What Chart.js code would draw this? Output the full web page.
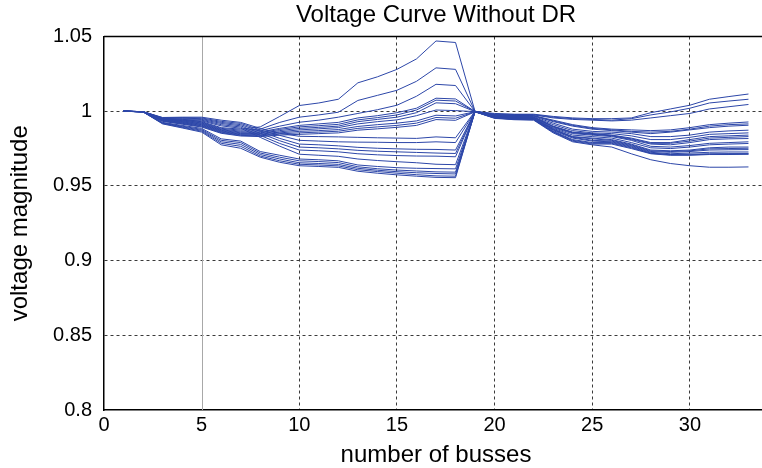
<!DOCTYPE html>
<html>
<head>
<meta charset="utf-8">
<script src="https://cdn.jsdelivr.net/npm/chart.js@4.4.1/dist/chart.umd.min.js"></script>
<style>
  html, body { margin: 0; padding: 0; background: #fff; overflow: hidden; }
  #wrap { width: 780px; height: 468px; }
</style>
</head>
<body>
<div id="wrap"><canvas id="voltageChart" width="780" height="468"></canvas></div>
<script>
const busNumbers = [1, 2, 3, 4, 5, 6, 7, 8, 9, 10, 11, 12, 13, 14, 15, 16, 17, 18,
    19, 20, 21, 22, 23, 24, 25, 26, 27, 28, 29, 30, 31, 32, 33];

const xTicks = [0, 5, 10, 15, 20, 25, 30];
const xTickLabels = ['0', '5', '10', '15', '20', '25', '30'];
const yTicks = [0.8, 0.85, 0.9, 0.95, 1, 1.05];
const yTickLabels = ['0.8', '0.85', '0.9', '0.95', '1', '1.05'];

// each curve: buses 1-18 (main feeder) then buses 19-33
const curve01 = [1.0, 0.9997, 0.9950, 0.9940, 0.9930, 0.9890, 0.9880, 0.9895, 0.9965, 1.0038, 1.0055, 1.0080, 1.0190, 1.0230, 1.0280, 1.0350, 1.0470, 1.0460,
    0.9998, 0.9985, 0.9980, 0.9980, 0.9965, 0.9955, 0.9950, 0.9950, 0.9955, 0.9990, 1.0015, 1.0040, 1.0080, 1.0098, 1.0115];
const curve02 = [1.0, 0.9997, 0.9948, 0.9937, 0.9926, 0.9885, 0.9873, 0.9880, 0.9925, 0.9960, 0.9975, 0.9993, 1.0072, 1.0106, 1.0140, 1.0200, 1.0290, 1.0280,
    0.9998, 0.9980, 0.9978, 0.9977, 0.9960, 0.9950, 0.9945, 0.9940, 0.9950, 0.9975, 0.9995, 1.0020, 1.0055, 1.0068, 1.0080];
const curve03 = [1.0, 0.9997, 0.9946, 0.9934, 0.9922, 0.9880, 0.9866, 0.9870, 0.9900, 0.9926, 0.9940, 0.9960, 0.9985, 1.0010, 1.0040, 1.0100, 1.0180, 1.0172,
    0.9998, 0.9980, 0.9975, 0.9975, 0.9955, 0.9945, 0.9940, 0.9935, 0.9940, 0.9955, 0.9970, 0.9985, 1.0015, 1.0030, 1.0045];
const curve04 = [1.0, 0.9997, 0.9944, 0.9931, 0.9918, 0.9876, 0.9860, 0.9862, 0.9885, 0.9905, 0.9915, 0.9925, 0.9955, 0.9970, 0.9990, 1.0020, 1.0087, 1.0082,
    0.9998, 0.9975, 0.9970, 0.9970, 0.9930, 0.9900, 0.9880, 0.9870, 0.9860, 0.9850, 0.9860, 0.9875, 0.9890, 0.9900, 0.9906];
const curve05 = [1.0, 0.9997, 0.9942, 0.9928, 0.9914, 0.9872, 0.9855, 0.9856, 0.9878, 0.9895, 0.9903, 0.9912, 0.9942, 0.9957, 0.9975, 1.0008, 1.0074, 1.0068,
    0.9998, 0.9970, 0.9965, 0.9960, 0.9910, 0.9870, 0.9855, 0.9850, 0.9835, 0.9810, 0.9810, 0.9825, 0.9845, 0.9850, 0.9855];
const curve06 = [1.0, 0.9996, 0.9940, 0.9925, 0.9910, 0.9868, 0.9850, 0.9850, 0.9870, 0.9885, 0.9892, 0.9900, 0.9930, 0.9945, 0.9960, 0.9990, 1.0056, 1.0050,
    0.9997, 0.9965, 0.9960, 0.9958, 0.9895, 0.9855, 0.9845, 0.9835, 0.9810, 0.9780, 0.9775, 0.9790, 0.9810, 0.9815, 0.9817];
const curve07 = [1.0, 0.9996, 0.9938, 0.9922, 0.9906, 0.9864, 0.9846, 0.9845, 0.9862, 0.9875, 0.9882, 0.9890, 0.9915, 0.9930, 0.9942, 0.9970, 1.0008, 1.0004,
    0.9997, 0.9962, 0.9955, 0.9952, 0.9885, 0.9840, 0.9830, 0.9820, 0.9790, 0.9755, 0.9750, 0.9760, 0.9775, 0.9780, 0.9784];
const curve08 = [1.0, 0.9996, 0.9936, 0.9919, 0.9902, 0.9860, 0.9842, 0.9840, 0.9855, 0.9865, 0.9870, 0.9877, 0.9898, 0.9910, 0.9920, 0.9935, 0.9973, 0.9968,
    0.9997, 0.9960, 0.9950, 0.9950, 0.9875, 0.9825, 0.9805, 0.9800, 0.9770, 0.9730, 0.9725, 0.9730, 0.9740, 0.9742, 0.9743];
const curve09 = [1.0, 0.9996, 0.9934, 0.9916, 0.9898, 0.9856, 0.9838, 0.9835, 0.9848, 0.9855, 0.9860, 0.9866, 0.9885, 0.9895, 0.9905, 0.9920, 0.9958, 0.9953,
    0.9996, 0.9955, 0.9948, 0.9945, 0.9865, 0.9810, 0.9790, 0.9790, 0.9760, 0.9720, 0.9710, 0.9712, 0.9715, 0.9716, 0.9716];
const curve10 = [1.0, 0.9996, 0.9932, 0.9913, 0.9894, 0.9852, 0.9834, 0.9830, 0.9840, 0.9845, 0.9850, 0.9855, 0.9873, 0.9882, 0.9892, 0.9905, 0.9944, 0.9939,
    0.9996, 0.9955, 0.9945, 0.9943, 0.9860, 0.9800, 0.9780, 0.9780, 0.9750, 0.9715, 0.9705, 0.9705, 0.9710, 0.9710, 0.9712];
const curve11 = [1.0, 0.9997, 0.9958, 0.9960, 0.9960, 0.9940, 0.9925, 0.9885, 0.9852, 0.9832, 0.9830, 0.9828, 0.9825, 0.9822, 0.9820, 0.9818, 0.9828, 0.9822,
    1.0000, 0.9975, 0.9970, 0.9970, 0.9940, 0.9910, 0.9890, 0.9880, 0.9875, 0.9870, 0.9875, 0.9890, 0.9910, 0.9920, 0.9928];
const curve12 = [1.0, 0.9997, 0.9956, 0.9957, 0.9955, 0.9932, 0.9918, 0.9875, 0.9838, 0.9805, 0.9800, 0.9795, 0.9793, 0.9792, 0.9790, 0.9790, 0.9795, 0.9790,
    0.9998, 0.9970, 0.9965, 0.9965, 0.9920, 0.9880, 0.9865, 0.9860, 0.9850, 0.9830, 0.9830, 0.9840, 0.9860, 0.9868, 0.9873];
const curve13 = [1.0, 0.9997, 0.9954, 0.9953, 0.9950, 0.9925, 0.9910, 0.9865, 0.9818, 0.9780, 0.9775, 0.9768, 0.9758, 0.9752, 0.9748, 0.9745, 0.9744, 0.9740,
    0.9998, 0.9968, 0.9960, 0.9960, 0.9900, 0.9860, 0.9850, 0.9840, 0.9820, 0.9790, 0.9790, 0.9810, 0.9830, 0.9835, 0.9840];
const curve14 = [1.0, 0.9997, 0.9952, 0.9949, 0.9945, 0.9918, 0.9902, 0.9852, 0.9802, 0.9760, 0.9755, 0.9748, 0.9738, 0.9732, 0.9728, 0.9724, 0.9720, 0.9717,
    0.9997, 0.9965, 0.9958, 0.9955, 0.9890, 0.9850, 0.9840, 0.9830, 0.9805, 0.9765, 0.9760, 0.9770, 0.9785, 0.9790, 0.9795];
const curve15 = [1.0, 0.9996, 0.9950, 0.9945, 0.9940, 0.9910, 0.9894, 0.9838, 0.9784, 0.9740, 0.9735, 0.9728, 0.9715, 0.9708, 0.9703, 0.9700, 0.9699, 0.9695,
    0.9997, 0.9960, 0.9953, 0.9950, 0.9880, 0.9830, 0.9820, 0.9810, 0.9780, 0.9740, 0.9735, 0.9740, 0.9755, 0.9760, 0.9760];
const curve16 = [1.0, 0.9996, 0.9948, 0.9941, 0.9935, 0.9902, 0.9886, 0.9825, 0.9766, 0.9712, 0.9705, 0.9698, 0.9680, 0.9670, 0.9662, 0.9655, 0.9645, 0.9642,
    0.9997, 0.9958, 0.9950, 0.9948, 0.9870, 0.9820, 0.9800, 0.9795, 0.9765, 0.9725, 0.9715, 0.9720, 0.9725, 0.9727, 0.9727];
const curve17 = [1.0, 0.9996, 0.9925, 0.9905, 0.9885, 0.9815, 0.9800, 0.9730, 0.9705, 0.9680, 0.9675, 0.9668, 0.9640, 0.9630, 0.9622, 0.9618, 0.9616, 0.9614,
    0.9996, 0.9952, 0.9943, 0.9940, 0.9855, 0.9795, 0.9775, 0.9760, 0.9715, 0.9675, 0.9650, 0.9635, 0.9625, 0.9625, 0.9627];
const curve18 = [1.0, 0.9996, 0.9922, 0.9900, 0.9878, 0.9805, 0.9790, 0.9720, 0.9692, 0.9668, 0.9663, 0.9656, 0.9628, 0.9615, 0.9606, 0.9600, 0.9594, 0.9592,
    0.9997, 0.9967, 0.9960, 0.9958, 0.9898, 0.9858, 0.9848, 0.9838, 0.9815, 0.9785, 0.9785, 0.9800, 0.9820, 0.9825, 0.9830];
const curve19 = [1.0, 0.9995, 0.9920, 0.9896, 0.9872, 0.9795, 0.9778, 0.9710, 0.9680, 0.9655, 0.9650, 0.9644, 0.9618, 0.9605, 0.9595, 0.9588, 0.9583, 0.9580,
    0.9997, 0.9960, 0.9952, 0.9950, 0.9878, 0.9828, 0.9815, 0.9805, 0.9775, 0.9735, 0.9730, 0.9735, 0.9748, 0.9750, 0.9752];
const curve20 = [1.0, 0.9995, 0.9918, 0.9892, 0.9866, 0.9785, 0.9765, 0.9700, 0.9668, 0.9645, 0.9640, 0.9634, 0.9608, 0.9596, 0.9585, 0.9575, 0.9567, 0.9565,
    0.9996, 0.9955, 0.9947, 0.9944, 0.9862, 0.9805, 0.9785, 0.9785, 0.9755, 0.9718, 0.9708, 0.9708, 0.9712, 0.9713, 0.9714];
const curve21 = [1.0, 0.9995, 0.9915, 0.9888, 0.9860, 0.9775, 0.9752, 0.9692, 0.9658, 0.9635, 0.9630, 0.9624, 0.9598, 0.9585, 0.9574, 0.9565, 0.9557, 0.9555,
    1.0000, 0.9975, 0.9970, 0.9968, 0.9935, 0.9905, 0.9885, 0.9875, 0.9865, 0.9860, 0.9865, 0.9880, 0.9900, 0.9910, 0.9915];

const voltageCurves = [curve01, curve02, curve03, curve04, curve05, curve06, curve07,
    curve08, curve09, curve10, curve11, curve12, curve13, curve14, curve15, curve16,
    curve17, curve18, curve19, curve20, curve21];

(function () {
    const lineColor = '#2c46a8';
    const gridColor = '#3a3a3a';

    Chart.defaults.font.family = "'Liberation Sans', Arial, Helvetica, sans-serif";
    Chart.defaults.color = '#000';

    // axes box: top edge plus the solid grey line at x = 5
    const axesBox = {
        id: 'axesBox',
        beforeDatasetsDraw(chart) {
            const { ctx, chartArea, scales } = chart;
            const x5 = Math.round(scales.x.getPixelForValue(5)) + 0.5;
            ctx.save();
            ctx.strokeStyle = '#a8a8a8';
            ctx.lineWidth = 1;
            ctx.beginPath();
            ctx.moveTo(x5, chartArea.top);
            ctx.lineTo(x5, chartArea.bottom);
            ctx.stroke();
            ctx.restore();
        },
        afterDraw(chart) {
            const { ctx, chartArea } = chart;
            ctx.save();
            ctx.strokeStyle = '#000';
            ctx.lineWidth = 1.5;
            ctx.beginPath();
            ctx.moveTo(chartArea.left, chartArea.top);
            ctx.lineTo(chartArea.right + 20, chartArea.top);
            ctx.stroke();
            ctx.restore();
        },
    };

    const datasets = voltageCurves.map((values, i) => ({
        label: 'Case ' + (i + 1),
        data: values.map((v, j) => ({ x: busNumbers[j], y: v })),
        borderColor: lineColor,
        borderWidth: 1,
        pointRadius: 0,
        tension: 0,
        fill: false,
    }));

    const ctx = document.getElementById('voltageChart').getContext('2d');
    new Chart(ctx, {
        type: 'line',
        data: { datasets },
        plugins: [axesBox],
        options: {
            responsive: false,
            animation: false,
            layout: { padding: { left: 0, right: 12, top: 0, bottom: 0 } },
            plugins: {
                legend: { display: false },
                tooltip: { enabled: false },
                title: {
                    display: true,
                    fullSize: false,
                    text: 'Voltage Curve Without DR',
                    color: '#000',
                    font: { size: 24, weight: 'normal', lineHeight: 1 },
                    padding: { top: 3, bottom: 9.5 },
                },
            },
            scales: {
                x: {
                    type: 'linear',
                    min: 0,
                    max: 34,
                    afterFit: (scale) => { scale.height = 58; },
                    afterBuildTicks: (scale) => { scale.ticks = xTicks.map((v) => ({ value: v })); },
                    ticks: {
                        padding: 3,
                        font: { size: 20 },
                        color: '#000',
                        callback: (value) => xTickLabels[xTicks.indexOf(value)],
                    },
                    grid: {
                        drawTicks: false,
                        lineWidth: 1,
                        color: (c) => (c.tick && (c.tick.value === 5 || c.tick.value === 0) ? 'rgba(0,0,0,0)' : gridColor),
                    },
                    border: { display: true, color: '#000', width: 1.5, dash: [3, 3] },
                    title: {
                        display: true,
                        text: 'number of busses',
                        color: '#000',
                        font: { size: 24, lineHeight: 1 },
                        padding: { top: 0, bottom: 1 },
                    },
                },
                y: {
                    min: 0.8,
                    max: 1.05,
                    afterFit: (scale) => { scale.width = 104; },
                    afterBuildTicks: (scale) => { scale.ticks = yTicks.map((v) => ({ value: v })); },
                    ticks: {
                        padding: 12,
                        font: { size: 20 },
                        color: '#000',
                        callback: (value) => yTickLabels[yTicks.indexOf(value)],
                    },
                    grid: {
                        drawTicks: false,
                        lineWidth: 1,
                        color: (c) => (c.tick && (c.tick.value === 0.8 || c.tick.value === 1.05) ? 'rgba(0,0,0,0)' : gridColor),
                    },
                    border: { display: true, color: '#000', width: 1.5, dash: [3, 3] },
                    title: {
                        display: true,
                        text: 'voltage magnitude',
                        color: '#000',
                        font: { size: 24, lineHeight: 1 },
                        padding: { top: 8, bottom: 0 },
                    },
                },
            },
        },
    });
})();
</script>
</body>
</html>
